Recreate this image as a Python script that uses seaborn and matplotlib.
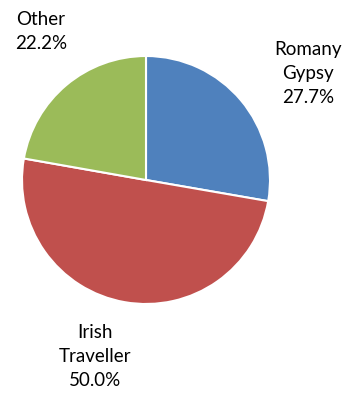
import matplotlib
matplotlib.use("Agg")
import matplotlib.pyplot as plt
import seaborn as sns

sns.set_theme(style="white")
plt.rcParams["font.family"] = ["Lato", "DejaVu Sans"]

# Ethnicity breakdown
categories = ["Romany\nGypsy", "Irish\nTraveller", "Other"]
shares = [27.7, 50.0, 22.2]
colors = ["#4F81BD", "#C0504D", "#9BBB59"]

# Label anchor points (pie data units, radius 1)
label_xy = [(1.306, 0.86), (-0.411, -1.427), (-0.847, 1.195)]

W, H, DPI = 354, 394, 100
fig = plt.figure(figsize=(W / DPI, H / DPI), dpi=DPI)
fig.patch.set_facecolor("white")

cx, cy, r = 146, 180, 124
ax = fig.add_axes([(cx - r) / W, (H - cy - r) / H, 2 * r / W, 2 * r / H])

ax.pie(
    shares,
    colors=colors,
    startangle=90,
    counterclock=False,
    radius=1.0,
    wedgeprops=dict(edgecolor="white", linewidth=1.5),
)
ax.set_xlim(-1.0, 1.0)
ax.set_ylim(-1.0, 1.0)
ax.set_aspect("equal")
ax.axis("off")

for cat, val, (x, y) in zip(categories, shares, label_xy):
    ax.text(x, y, f"{cat}\n{val:.1f}%", ha="center", va="center",
            fontsize=13.5, color="black", linespacing=1.5, clip_on=False)

fig.savefig("out.png", dpi=DPI, facecolor="white")
